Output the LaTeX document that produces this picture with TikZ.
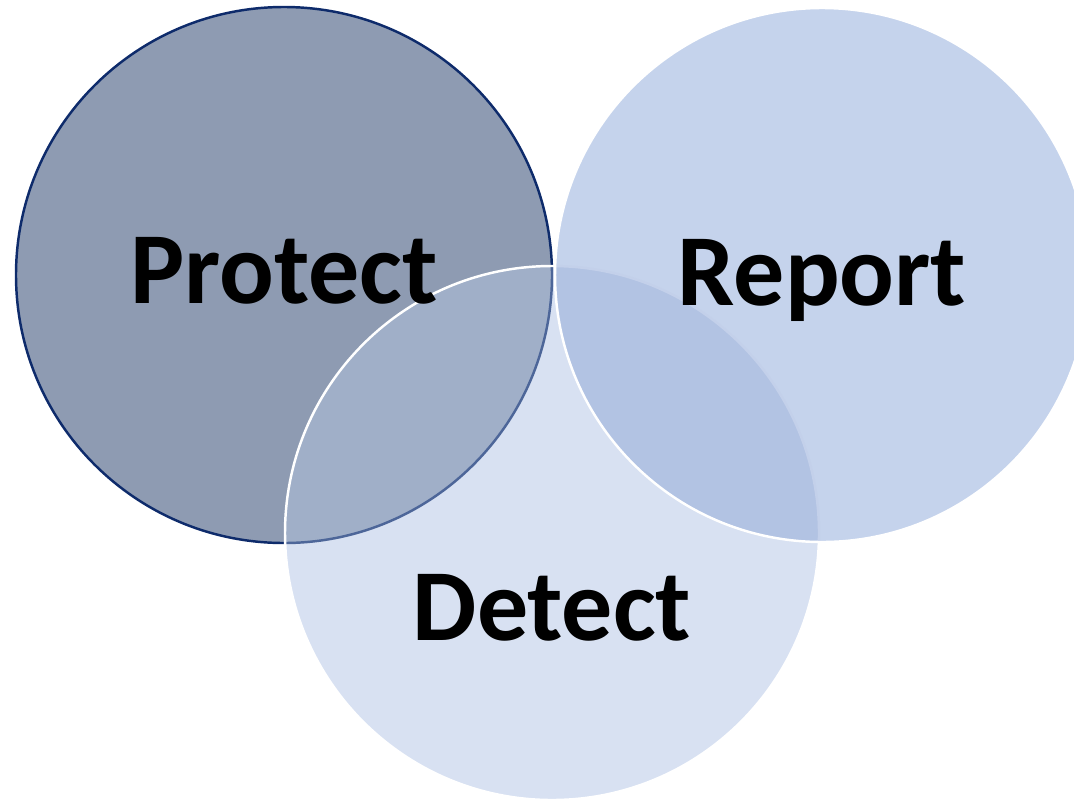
\documentclass[tikz,border=0pt]{standalone}
\usepackage{fontspec}
\setmainfont{Carlito}
\begin{document}
\definecolor{protectfill}{HTML}{8E9BB2}
\definecolor{reportfill}{HTML}{C5D3EC}
\definecolor{detectfill}{HTML}{D8E1F2}
\definecolor{pdfill}{HTML}{A0AFC8}
\definecolor{rdfill}{HTML}{B2C3E3}
\definecolor{navyedge}{HTML}{0E2B6B}
\definecolor{navysoft}{HTML}{4D6699}
\definecolor{faintedge}{HTML}{C3D0EA}
\begin{tikzpicture}[x=0.01cm,y=-0.01cm,
  label/.style={font=\bfseries\fontsize{29}{34}\selectfont, text=black, anchor=base, inner sep=0pt},
  edge/.style={line width=0.7pt}]
\useasboundingbox (0,0) rectangle (1074,800);
\coordinate (cp) at (284,275);
\coordinate (cr) at (822,275);
\coordinate (cd) at (552,533);
\def\rad{267}
% Protect
\fill[protectfill] (cp) circle[radius=268];
\draw[edge, navyedge] (cp) circle[radius=268];
% Detect
\fill[detectfill] (cd) circle[radius=\rad];
\begin{scope}
  \clip (cd) circle[radius=\rad];
  \fill[pdfill] (cp) circle[radius=268];
  \draw[edge, navysoft] (cp) circle[radius=268];
\end{scope}
\draw[edge, white] (cd) circle[radius=\rad];
% Report
\fill[reportfill] (cr) circle[radius=\rad];
\begin{scope}
  \clip (cr) circle[radius=\rad];
  \fill[rdfill] (cd) circle[radius=\rad];
  \draw[edge, faintedge] (cd) circle[radius=\rad];
\end{scope}
\draw[edge, white] (cr) circle[radius=\rad];
% Labels
\node[label] (protect) at (284,303) {Protect};
\node[label] (report) at (822,305) {Report};
\node[label] (detect) at (552,640) {Detect};
\end{tikzpicture}
\end{document}
